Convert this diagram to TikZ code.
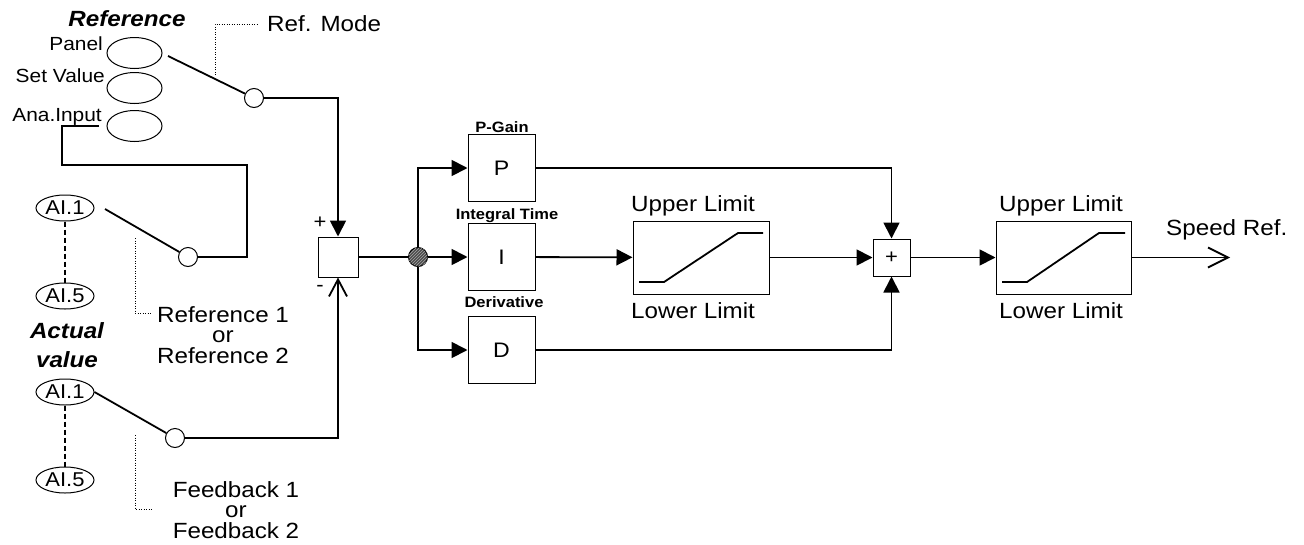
\documentclass[tikz,border=0pt]{standalone}
\usepackage{fontspec}
\setmainfont{Liberation Sans}[FakeStretch=1.1]
\usetikzlibrary{arrows.meta,shapes.geometric,patterns}
\newcommand\fsz[1]{\fontsize{#1}{#1}\selectfont}
\begin{document}
\begin{tikzpicture}[x=1pt,y=-1pt,
  wire/.style={line width=1.8pt},
  thinl/.style={line width=1pt},
  arr/.style={wire,-{Triangle[length=16pt,width=16pt]}},
  blk/.style={draw,thinl,minimum width=67pt,minimum height=67pt,inner sep=0pt,font=\fsz{21}},
  lim/.style={draw,thinl,minimum width=136pt,minimum height=73pt,inner sep=0pt},
  sumb/.style={draw,thinl,inner sep=0pt,fill=white},
  refell/.style={draw,thinl,ellipse,minimum width=55pt,minimum height=31pt,inner sep=0pt},
  aiell/.style={draw,thinl,ellipse,minimum width=58pt,minimum height=26pt,inner sep=0pt,font=\fsz{20}},
  swc/.style={draw,thinl,circle,minimum size=19pt,inner sep=0pt,fill=white},
  dotl/.style={line width=1pt,dash pattern=on 1pt off 1.5pt},
  txt/.style={inner sep=0pt,font=\fsz{22}},
  small/.style={inner sep=0pt,font=\bfseries\fsz{15},anchor=base},
  ramp/.style={wire}
]
\path[fill=white] (0,0) rectangle (1304,544);
\useasboundingbox (0,0) rectangle (1304,544);

% ---- reference selection ----
\node[txt,font=\bfseries\itshape\fsz{22},anchor=base] (treference) at (127,26) {Reference};
\node[refell] (ell1) at (134.5,53) {};
\node[refell] (ell2) at (134.5,88) {};
\node[refell] (ell3) at (134.5,126) {};
\node[txt,font=\fsz{19},anchor=base east] (tpanel) at (103,50) {Panel};
\node[txt,font=\fsz{19},anchor=base east] (tset) at (105,82) {Set Value};
\node[txt,font=\fsz{19},anchor=base east] (tana) at (102,121) {Ana.Input};

\node[swc] (c1) at (254,98) {};
\coordinate (s1) at (168,56);
\draw[wire] (s1) -- (c1);

\coordinate (rm1) at (215,75);
\coordinate (rm2) at (258,24);
\draw[dotl] (rm1) |- (rm2);
\node[txt,anchor=base west] (trefmode) at (267,31) {Ref. Mode};

% ---- analog reference input ----
\node[aiell] (ai1a) at (65,208) {AI.1};
\node[aiell] (ai5a) at (65,296) {AI.5};
\draw[wire,dash pattern=on 5pt off 3pt] (ai1a) -- (ai5a);
\node[swc] (c2) at (188,257) {};
\coordinate (s2) at (105,209);
\draw[wire] (s2) -- (c2);
\coordinate (anastart) at (99,126);
\draw[wire] (anastart) -- (62,126) -- (62,165) -| (247,257) -- (c2);

\coordinate (d1a) at (135,238);
\coordinate (d1b) at (152,313);
\draw[dotl] (d1a) |- (d1b);
\node[txt,font=\fontsize{22}{20.5}\selectfont,align=center,anchor=north] (tref12) at (223,306) {Reference 1\\or\\Reference 2};

% ---- actual value ----
\node[txt,font=\bfseries\itshape\fontsize{22}{29}\selectfont,align=center,anchor=north] (tactual) at (67,322) {Actual\\value};
\node[aiell] (ai1b) at (65,392) {AI.1};
\node[aiell] (ai5b) at (65,480) {AI.5};
\draw[wire,dash pattern=on 5pt off 3pt] (ai1b) -- (ai5b);
\node[swc] (c3) at (175,438) {};
\draw[wire] (ai1b.east) -- (c3);

\coordinate (d2a) at (135,435);
\coordinate (d2b) at (152,509);
\draw[dotl] (d2a) |- (d2b);
\node[txt,font=\fontsize{22}{20.5}\selectfont,align=center,anchor=north] (tfb12) at (236,481) {Feedback 1\\or\\Feedback 2};

% ---- summing point ----
\node[sumb,minimum size=40pt] (sum) at (338,257) {};
\node[txt,font=\fsz{20}] (tplus) at (320,223) {+};
\node[txt,font=\fsz{20}] (tminus) at (320,288) {-};
\draw[arr] (c1) -| (sum.north);
\draw[wire,-{Straight Barb[length=17pt,width=18pt]}] (c3) -| (sum.south);

\node[circle,draw,thinl,minimum size=19pt,inner sep=0pt,fill=black!70,
      postaction={pattern=north east lines,pattern color=black!35}] (jn) at (418,257) {};
\draw[wire] (sum) -- (jn);

% ---- PID blocks ----
\node[blk] (Pb) at (501.5,168) {P};
\node[blk] (Ib) at (501.5,257) {I};
\node[blk] (Db) at (501.5,350) {D};
\node[small] (tpgain) at (502,132) {P-Gain};
\node[small] (tint) at (507,219) {Integral Time};
\node[small] (tder) at (504,307) {Derivative};
\draw[arr] (jn) -- (Ib);
\draw[arr] (jn) |- (Pb);
\draw[arr] (jn) |- (Db);

% ---- limiter 1 ----
\node[lim] (lim1) at (701,257.5) {};
\draw[ramp,shift={(lim1.center)}] (-62,24.5) -- (-37,24.5) -- (37,-24.5) -- (62,-24.5);
\node[txt,anchor=base west] (tup1) at (631,211) {Upper Limit};
\node[txt,anchor=base west] (tlow1) at (631,318) {Lower Limit};
\draw[arr] (Ib) -- (lim1);

% ---- sum 2 ----
\node[sumb,minimum size=37pt,font=\fsz{20}] (sum2) at (891.5,257.5) {+};
\draw[arr] (lim1) -- (sum2);
\draw[arr] (Pb) -| (sum2);
\draw[arr] (Db) -| (sum2);

% ---- limiter 2 ----
\node[lim,minimum width=135pt] (lim2) at (1063.5,257.5) {};
\draw[ramp,shift={(lim2.center)}] (-61.5,24.5) -- (-36.5,24.5) -- (35.5,-24.5) -- (61.5,-24.5);
\node[txt,anchor=base west] (tup2) at (999,211) {Upper Limit};
\node[txt,anchor=base west] (tlow2) at (999,318) {Lower Limit};
\draw[arr] (sum2) -- (lim2);

\coordinate (outend) at (1230,257.5);
\draw[wire,-{Straight Barb[length=20pt,width=20pt]}] (lim2) -- (outend);
\node[txt,anchor=base west] (tspeed) at (1166,235) {Speed Ref.};
\end{tikzpicture}
\end{document}
